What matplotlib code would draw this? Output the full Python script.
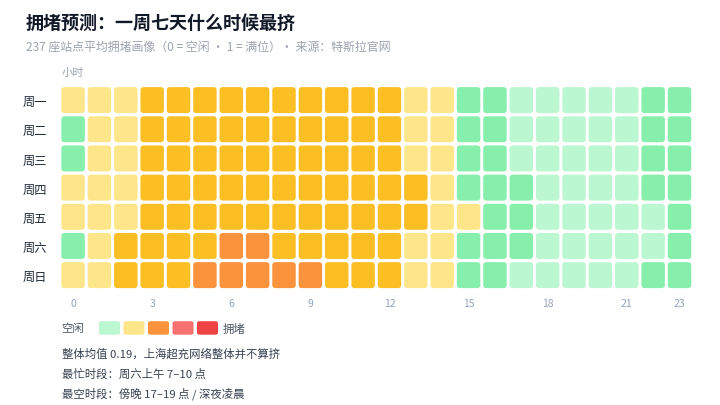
import matplotlib
matplotlib.use("Agg")
import matplotlib.pyplot as plt
from matplotlib.colors import ListedColormap, BoundaryNorm
from matplotlib.patches import FancyBboxPatch

plt.rcParams['font.family'] = ['Noto Sans CJK SC', 'DejaVu Sans']

days = ["周一", "周二", "周三", "周四", "周五", "周六", "周日"]
hours = list(range(24))
tick_hours = [0, 3, 6, 9, 12, 15, 18, 21, 23]

# estimated average occupancy (0 = idle, 1 = full)
mon = [0.17, 0.16, 0.18, 0.24, 0.27, 0.28, 0.29, 0.29, 0.28, 0.28, 0.27, 0.26,
       0.23, 0.18, 0.15, 0.11, 0.09, 0.06, 0.05, 0.05, 0.05, 0.06, 0.09, 0.12]
tue = [0.12, 0.15, 0.17, 0.24, 0.27, 0.28, 0.29, 0.29, 0.29, 0.28, 0.27, 0.26,
       0.22, 0.17, 0.15, 0.11, 0.09, 0.06, 0.05, 0.05, 0.05, 0.06, 0.09, 0.11]
wed = [0.13, 0.15, 0.18, 0.25, 0.27, 0.28, 0.29, 0.29, 0.28, 0.28, 0.27, 0.25,
       0.22, 0.18, 0.15, 0.12, 0.09, 0.07, 0.05, 0.05, 0.05, 0.06, 0.09, 0.12]
thu = [0.15, 0.16, 0.19, 0.25, 0.28, 0.29, 0.29, 0.29, 0.29, 0.28, 0.27, 0.26,
       0.24, 0.21, 0.16, 0.12, 0.10, 0.09, 0.06, 0.05, 0.05, 0.06, 0.09, 0.12]
fri = [0.15, 0.16, 0.19, 0.25, 0.28, 0.29, 0.29, 0.29, 0.29, 0.29, 0.28, 0.27,
       0.25, 0.21, 0.17, 0.15, 0.12, 0.09, 0.07, 0.06, 0.05, 0.05, 0.07, 0.10]
sat = [0.11, 0.17, 0.22, 0.27, 0.29, 0.29, 0.32, 0.31, 0.29, 0.28, 0.27, 0.25,
       0.22, 0.18, 0.16, 0.12, 0.10, 0.09, 0.07, 0.06, 0.05, 0.05, 0.06, 0.09]
sun = [0.15, 0.18, 0.23, 0.27, 0.29, 0.31, 0.33, 0.33, 0.32, 0.31, 0.28, 0.26,
       0.22, 0.18, 0.15, 0.12, 0.09, 0.07, 0.05, 0.05, 0.05, 0.06, 0.09, 0.12]
grid = [mon, tue, wed, thu, fri, sat, sun]

level_bounds = [0, 0.08, 0.14, 0.2, 0.3, 0.4, 0.55, 1.0]
level_colors = ["#bbf7d0", "#86efac", "#fde68a", "#fbbf24", "#fb923c", "#f87171", "#ef4444"]
legend_colors = ["#bbf7d0", "#fde68a", "#fb923c", "#f87171", "#ef4444"]

notes = ["整体均值 0.19，上海超充网络整体并不算挤",
         "最忙时段：周六上午 7–10 点",
         "最空时段：傍晚 17–19 点 / 深夜凌晨"]

cmap = ListedColormap(level_colors)
norm = BoundaryNorm(level_bounds, cmap.N)

W, H = 720, 406
fig = plt.figure(figsize=(W / 100, H / 100), dpi=100)

# heatmap axes (pixel box -> figure fraction)
left, right, top, bottom = 59.9, 692.7, 86.5, 290.7
ax = fig.add_axes([left / W, 1 - bottom / H, (right - left) / W, (bottom - top) / H])
ax.set_xlim(-0.5, 23.5)
ax.set_ylim(6.5, -0.5)

cw, ch = 0.89, 0.89
for r, row in enumerate(grid):
    for c, v in enumerate(row):
        box = FancyBboxPatch((hours[c] - cw / 2, r - ch / 2), cw, ch,
                             boxstyle="round,pad=0,rounding_size=0.12",
                             mutation_aspect=0.9,
                             facecolor=cmap(norm(v)), edgecolor="none")
        ax.add_patch(box)

for s in ax.spines.values():
    s.set_visible(False)
ax.set_xticks(tick_hours)
ax.set_xticklabels([str(h) for h in tick_hours], fontsize=7.5, color="#94a3b8")
ax.set_yticks(range(len(days)))
ax.set_yticklabels(days, fontsize=8.8, color="#1f2937")
ax.tick_params(axis="both", length=0)
ax.tick_params(axis="x", pad=6)
ax.tick_params(axis="y", pad=9)

# titles
fig.text(26 / W, 1 - 23 / H, "拥堵预测：一周七天什么时候最挤", fontsize=13,
         fontweight="bold", color="#111827", va="center", ha="left")
fig.text(26 / W, 1 - 47 / H, "237 座站点平均拥堵画像（0 = 空闲 · 1 = 满位）· 来源：特斯拉官网",
         fontsize=8.6, color="#9ca3af", va="center", ha="left")
fig.text(61.5 / W, 1 - 73 / H, "小时", fontsize=8, color="#9ca3af", va="center", ha="left")

# legend
ly = 1 - 329 / H
fig.text(61.5 / W, ly, "空闲", fontsize=8.2, color="#4b5563", va="center", ha="left")
sw, sh, sp = 21, 13.5, 24.5
for i, col in enumerate(legend_colors):
    x0 = 99 + i * sp
    fig.patches.append(FancyBboxPatch((x0 / W, (H - 335.7) / H), sw / W, sh / H,
                                      boxstyle="round,pad=0,rounding_size=0.004",
                                      transform=fig.transFigure,
                                      facecolor=col, edgecolor="none"))
fig.text(223 / W, ly, "拥堵", fontsize=8.2, color="#4b5563", va="center", ha="left")

for i, line in enumerate(notes):
    fig.text(61.5 / W, 1 - (354 + i * 20) / H, line, fontsize=8.2,
             color="#374151", va="center", ha="left")

fig.savefig("out.png", dpi=100)
